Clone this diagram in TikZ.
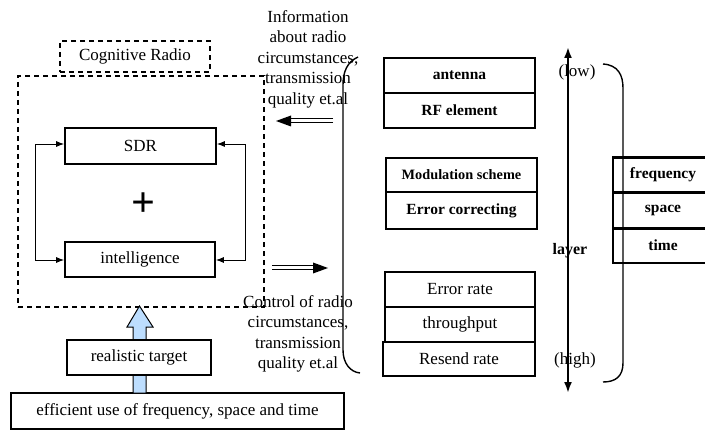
\documentclass[tikz,border=0pt]{standalone}
\usepackage{fontspec}
\setmainfont{Liberation Serif}
\usetikzlibrary{arrows.meta,calc}
\begin{document}
\begin{tikzpicture}[x=1pt,y=-1pt,
  txt/.style={font=\fontsize{17}{20.5}\selectfont},
  boxn/.style={draw,line width=1.7pt,inner sep=0pt,txt},
  boxb/.style={draw,line width=2.4pt,inner sep=0pt,font=\fontsize{15.5}{18}\selectfont\bfseries},
  dbox/.style={draw,dashed,line width=1.3pt,dash pattern=on 5pt off 4pt,inner sep=0pt},
  loop/.style={line width=0.9pt,{Latex[length=8pt,width=6pt]}-{Latex[length=8pt,width=6pt]}},
  brace/.style={line width=1.4pt},
  dbl/.style={line width=1pt}
]
\useasboundingbox (0,0) rectangle (705,433);

% left side
\node[dbox,txt,minimum width=150pt,minimum height=31pt] (cr) at (135,56.5) {Cognitive Radio};
\node[dbox,minimum width=246pt,minimum height=231pt] (big) at (141,191.5) {};
\node[boxn,minimum width=151pt,minimum height=36pt] (sdr) at (140.5,146) {SDR};
\node[boxn,minimum width=150pt,minimum height=35pt] (intel) at (140,259.5) {intelligence};
\node[font=\fontsize{42}{42}\selectfont\bfseries,inner sep=0pt] (plus) at (143,205) {+};

\coordinate (la) at (35,144);
\coordinate (lb) at (35,260);
\coordinate (ra) at (245,144);
\coordinate (rb) at (245,260);
\draw[loop] (sdr.west |- la) -- (la) -- (lb) -- (intel.west |- lb);
\draw[loop] (sdr.east |- ra) -- (ra) -- (rb) -- (intel.east |- rb);

% blue arrow
\node[boxn,minimum width=333pt,minimum height=36pt] (eff) at (177.5,411) {efficient use of frequency, space and time};
\draw[line width=1pt,fill={rgb,255:red,189;green,222;blue,255}]
  (133,393) -- (133,327) -- (127,327) -- (139.5,306) -- (153,327) -- (146,327) -- (146,393) -- cycle;
\node[boxn,fill=white,minimum width=144pt,minimum height=35pt] (real) at (139,357.5) {realistic target};

% texts
\node[txt,align=center,inner sep=0pt] (info) at (308,59) {Information\\about radio\\circumstances,\\transmission\\quality et.al};
\node[txt,align=center,inner sep=0pt] (ctrl) at (298,334) {Control of radio\\circumstances,\\transmission\\quality et.al};

% double arrows
\coordinate (ia) at (333,121);
\coordinate (ib) at (276,121);
\draw[dbl] ($(ia)+(0,-2)$) -- ($(ib)+(12,-2)$);
\draw[dbl] ($(ia)+(0,2)$) -- ($(ib)+(12,2)$);
\fill (ib) -- ($(ib)+(15,-5.5)$) -- ($(ib)+(15,5.5)$) -- cycle;
\coordinate (ca) at (272,268);
\coordinate (cb) at (328,268);
\draw[dbl] ($(ca)+(0,-2)$) -- ($(cb)+(-12,-2)$);
\draw[dbl] ($(ca)+(0,2)$) -- ($(cb)+(-12,2)$);
\fill (cb) -- ($(cb)+(-15,-5.5)$) -- ($(cb)+(-15,5.5)$) -- cycle;

% left brace
\draw[brace] (358,57) .. controls (347,62) and (343,72) .. (343,85) -- (343,350) .. controls (343,363) and (350,372) .. (360,373);

% right boxes
\node[boxb,minimum width=151pt,minimum height=35pt] (ant) at (459.5,75.5) {antenna};
\node[boxb,minimum width=151pt,minimum height=35pt] (rf) at (459.5,110.5) {RF element};
\node[boxb,minimum width=151pt,minimum height=34pt,font=\fontsize{14.3}{17}\selectfont\bfseries] (mod) at (461.5,175) {Modulation scheme};
\node[boxb,minimum width=151pt,minimum height=37pt] (ecc) at (461.5,210.5) {Error correcting};
\node[boxn,minimum width=150pt,minimum height=35pt] (erate) at (460,289.5) {Error rate};
\node[boxn,minimum width=150pt,minimum height=35pt] (thr) at (460,324.5) {throughput};
\node[boxn,minimum width=152pt,minimum height=34pt] (res) at (459,359) {Resend rate};

\node[boxb,minimum width=100pt,minimum height=35pt] (freq) at (663,175) {frequency};
\node[boxb,minimum width=100pt,minimum height=36pt] (space) at (663,210.5) {space};
\node[boxb,minimum width=100pt,minimum height=35pt] (time) at (663,245.5) {time};

% layer labels
\node[txt,inner sep=0pt] (low) at (577,72) {(low)};
\node[txt,inner sep=0pt] (high) at (575,360) {(high)};
\node[txt,font=\fontsize{16}{18}\selectfont\bfseries,inner sep=0pt] (layer) at (570,251) {layer};
\coordinate (lt) at (568,47);
\coordinate (lbm) at (568,393);
\draw[line width=2pt,{Latex[length=11pt,width=8pt]}-{Latex[length=11pt,width=8pt]}] (lt) -- (lbm);

% right brace
\draw[brace] (603,64) .. controls (618,65) and (623,75) .. (623,88) -- (623,363) .. controls (623,376) and (616,382) .. (603,382);
\end{tikzpicture}
\end{document}
